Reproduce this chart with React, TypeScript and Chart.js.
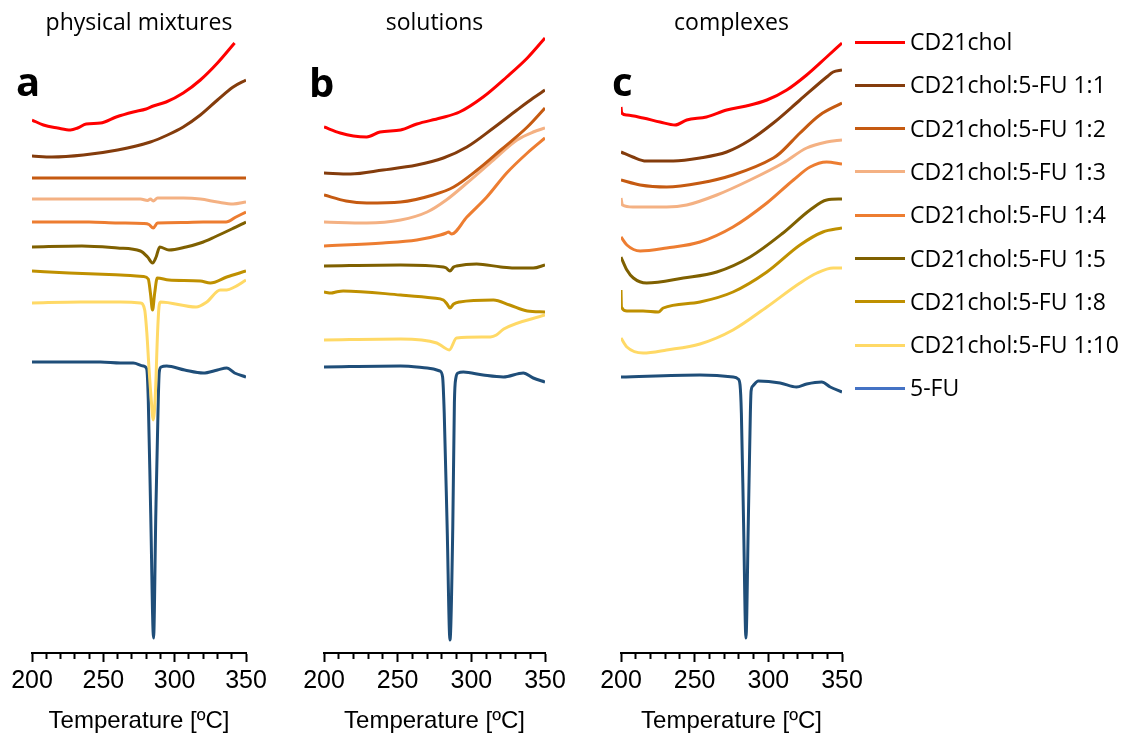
import React, { useEffect, useRef } from "react";
import { Chart, registerables } from "chart.js";

Chart.register(...registerables);

type Pt = [number, number];

// ---------- labels & styling lists ----------
const seriesNames = [
  "CD21chol",
  "CD21chol:5-FU 1:1",
  "CD21chol:5-FU 1:2",
  "CD21chol:5-FU 1:3",
  "CD21chol:5-FU 1:4",
  "CD21chol:5-FU 1:5",
  "CD21chol:5-FU 1:8",
  "CD21chol:5-FU 1:10",
  "5-FU",
];
const seriesColors = ["#FF0000", "#843C0C", "#C55A11", "#F4B183", "#ED7D31", "#7F6000", "#BF9000", "#FFD966", "#1F4E79"];
const legendColors = ["#FF0000", "#843C0C", "#C55A11", "#F4B183", "#ED7D31", "#7F6000", "#BF9000", "#FFD966", "#4472C4"];
const panelTitles = ["physical mixtures", "solutions", "complexes"];
const panelLetters = ["a", "b", "c"];
const axisTitle = "Temperature [ºC]";
const xMin = 200;
const xMax = 350;
const majorStep = 50;
const minorStep = 10;

// ---------- panel a : physical mixtures (temperature °C, heat flow a.u. with offsets) ----------
const aCD21chol: Pt[] = [[200,533],[208,528],[218,525],[227,523],[232,525],[238,529],[248,530],[259,536],[271,541],[280,544],[285,547],[294,551],[306,560],[318,573],[330,590],[342,610]];
const a11: Pt[] = [[200,497],[214,496],[236,498],[260,503],[283,511],[295,518],[306,526],[318,538],[330,553],[341,566],[350,573]];
const a12: Pt[] = [[200,475],[275,475],[350,475]];
const a13: Pt[] = [[200,454],[240,454],[276,454],[281,452.5],[283,454],[285,452],[288,455],[306,455],[318,454],[330,451],[341,449],[350,451]];
const a14: Pt[] = [[200,431],[240,431],[260,430],[278,429.5],[282,428.5],[285,425],[288,430],[306,430.5],[320,431],[336,431],[343,436],[350,441]];
const a15: Pt[] = [[200,406],[235,407],[260,405],[276,402],[281,396],[284.5,390],[287,396],[289.5,406],[296,403],[308,406],[318,410],[328,416],[340,424],[350,431]];
const a18: Pt[] = [[200,382],[226,380],[262,378],[278,376.5],[281.5,374],[283,360],[284.5,343],[286,360],[287.8,375],[296,373],[318,372],[325,370],[336.5,376],[350,382]];
const a110: Pt[] = [[200,350],[234,351],[262,351],[276,350],[279,343],[280.5,320],[282,285],[283.5,255],[285,233],[286.5,260],[288,320],[289,346],[290,351],[315,346],[322.5,351],[332,363],[336.5,363],[342,366],[350,373]];
const aFU: Pt[] = [[200,291],[248,291],[262,290],[271,290],[278,287],[280.4,284],[281.5,253],[283.2,140],[285.2,15],[286.8,140],[288.5,253],[289.2,281],[290.5,286],[294.4,287],[307,283],[320,280],[330,283],[336.5,285],[342,280],[350,276]];

// ---------- panel b : solutions ----------
const bCD21chol: Pt[] = [[200,526],[211,520],[220,517],[229,516],[238,521],[252,523],[263,529],[279,535],[292,541],[308,556],[324,576],[338,595],[350,615]];
const b11: Pt[] = [[200,480],[218,479],[240,483],[263,488],[281,495],[297,506],[315,525],[331,543],[342,555],[350,563]];
const b12: Pt[] = [[200,458],[215,452],[229,450],[252,451],[274,458],[288,466],[304,483],[320,503],[338,526],[350,545]];
const b13: Pt[] = [[200,431],[229,430],[252,433],[270,441],[283,453],[297,470],[315,493],[331,513],[342,521],[350,525]];
const b14: Pt[] = [[200,407],[240,410],[263,413],[279,418],[283,420],[284.5,421],[286.5,419],[297,436],[310.5,456],[324,480],[338,500],[350,515]];
const b15: Pt[] = [[200,387],[252,388],[281,386],[283,385],[285.5,382],[288,386],[290,387],[303.6,389],[320,386],[329,385],[342,385],[350,388]];
const b18: Pt[] = [[200,361],[205,360],[208,361],[213,362],[252,358],[274,355],[281,353],[283.5,349],[285.5,345],[288,349],[292,351],[315,353],[326,348],[338,342],[350,341]];
const b110: Pt[] = [[200,313],[252,314],[276.5,310],[281,306],[285,303],[290,315],[313,316],[317,318],[322,324],[350,338]];
const bFU: Pt[] = [[200,286],[252,287],[270,285],[278.7,282],[280.5,276],[281.6,240],[283.6,125],[285.5,13],[287.4,125],[288.5,250],[289.5,275],[291,280],[294.6,281],[308,278],[321.7,276],[335.3,280],[342,275],[350,271]];

// ---------- panel c : complexes ----------
const cCD21chol: Pt[] = [[200,546],[200.5,540],[204,538],[215,535],[226.5,531],[236.7,528],[244.6,533],[258,536],[271.7,543],[285,547],[299,553],[312.5,563],[326,578],[339.6,596],[350,610]];
const c11: Pt[] = [[200,501],[208,496],[217,492],[235.5,492],[253.6,495],[271.7,501],[287.6,513],[303.4,530],[321.5,553],[339.6,576],[344,581],[350,583]];
const c12: Pt[] = [[200,473],[213,468],[231,466],[253.6,470],[276,478],[303.4,495],[308,500],[321.5,520],[335,538],[350,550]];
const c13: Pt[] = [[200,455],[201,448],[208,446],[231,446],[244.6,448],[265,458],[287.6,473],[310,490],[326,505],[339.6,511],[350,513]];
const c14: Pt[] = [[200,416],[204,408],[213,402],[231,405],[253.6,411],[276,426],[299,450],[317,473],[328.3,486],[339.6,491],[350,489]];
const c15: Pt[] = [[200,396],[204,383],[208.4,375],[217.4,370],[242.3,375],[265,381],[287.6,396],[310,420],[328.3,443],[339.6,453],[350,454]];
const c18: Pt[] = [[200,363],[200.3,346],[204,342],[215,342],[225.3,341],[228.7,345],[253.6,351],[276,361],[299,381],[321.5,408],[337,421],[350,425]];
const c110: Pt[] = [[200,315],[204,306],[215,300],[231,303],[253.6,309],[276,323],[299,346],[321.5,370],[333,380],[344,385],[350,385]];
const cFU: Pt[] = [[200,276],[253.6,278],[276.2,276],[279.5,274],[280.8,268],[281.7,240],[283.2,130],[284.8,15],[286.4,130],[287.8,240],[288.3,262],[289.5,267],[293.2,272],[308,270],[319.2,266],[326,269],[336.2,271],[342,266],[350,261]];

const panelSeries: Pt[][][] = [
  [aCD21chol, a11, a12, a13, a14, a15, a18, a110, aFU],
  [bCD21chol, b11, b12, b13, b14, b15, b18, b110, bFU],
  [cCD21chol, c11, c12, c13, c14, c15, c18, c110, cFU],
];

// ---------- layout (pixels) ----------
const W = 1132;
const H = 738;
const panelBoxes = [
  { left: 0, width: 280, padL: 32, padR: 34 },
  { left: 280, width: 300, padL: 44, padR: 35 },
  { left: 580, width: 290, padL: 41, padR: 28 },
];
const plotTop = 35;
const axisBoxHeight = 85;
const yMax = H - axisBoxHeight - plotTop;

const FONT_AXIS = "'Liberation Sans', Arial, sans-serif";
const FONT_TEXT = "'Open Sans', 'Noto Sans', sans-serif";

function Panel({ idx }: { idx: number }) {
  const ref = useRef<HTMLCanvasElement | null>(null);
  const box = panelBoxes[idx];
  useEffect(() => {
    if (!ref.current) return;
    const series = panelSeries[idx];
    const chart = new Chart(ref.current, {
      type: "line",
      data: {
        datasets: series.map((pts, i) => ({
          label: seriesNames[i],
          data: pts.map(([x, y]) => ({ x, y })),
          borderColor: seriesColors[i],
          backgroundColor: seriesColors[i],
          borderWidth: 3,
          pointRadius: 0,
          fill: false,
          cubicInterpolationMode: "monotone" as const,
        })),
      },
      options: {
        animation: false,
        responsive: false,
        maintainAspectRatio: false,
        layout: { padding: { left: box.padL, right: box.padR, top: plotTop, bottom: 0 } },
        plugins: { legend: { display: false }, tooltip: { enabled: false }, title: { display: false } },
        scales: {
          x: {
            type: "linear",
            position: "bottom",
            min: xMin,
            max: xMax,
            ticks: {
              stepSize: minorStep,
              autoSkip: false,
              maxRotation: 0,
              minRotation: 0,
              callback: (v: any) => (Number(v) % majorStep === 0 ? String(v) : ""),
              font: { family: FONT_AXIS, size: 25 },
              color: "#000",
              padding: 4,
            },
            grid: {
              drawOnChartArea: false,
              drawTicks: true,
              tickLength: 9,
              tickWidth: 2,
              tickColor: "#000",
              tickBorderDash: (ctx: any) =>
                ctx.tick && Number(ctx.tick.value) % majorStep === 0 ? [] : [5, 40],
            } as any,
            border: { display: true, color: "#000", width: 2 },
            title: {
              display: true,
              text: axisTitle,
              color: "#000",
              font: { family: FONT_AXIS, size: 24 },
              padding: { top: 0, bottom: 2 },
            },
            afterFit: (s: any) => {
              s.height = axisBoxHeight;
              s.paddingLeft = 0;
              s.paddingRight = 0;
            },
          },
          y: { type: "linear", display: false, min: 0, max: yMax },
        },
      },
    } as any);
    return () => chart.destroy();
  }, [idx]);
  return (
    <canvas
      ref={ref}
      width={box.width}
      height={H}
      style={{ position: "absolute", left: box.left, top: 0, width: box.width, height: H }}
    />
  );
}

export default function App() {
  const letterPos = [
    { left: 16, top: 61 },
    { left: 309, top: 62 },
    { left: 612, top: 61 },
  ];
  return (
    <div style={{ position: "fixed", left: 0, top: 0, width: W, height: H, background: "#fff", overflow: "hidden" }}>
      {panelBoxes.map((_, i) => (
        <Panel key={i} idx={i} />
      ))}
      {panelBoxes.map((b, i) => {
        const l = b.left + b.padL;
        const r = b.left + b.width - b.padR;
        return (
          <div
            key={"t" + i}
            style={{
              position: "absolute",
              left: l - 40,
              width: r - l + 80,
              top: 10,
              textAlign: "center",
              fontFamily: FONT_TEXT,
              fontSize: 23,
              lineHeight: "23px",
              color: "#000",
              whiteSpace: "nowrap",
            }}
          >
            {panelTitles[i]}
          </div>
        );
      })}
      {panelLetters.map((t, i) => (
        <div
          key={"l" + i}
          style={{
            position: "absolute",
            left: letterPos[i].left,
            top: letterPos[i].top,
            fontFamily: FONT_TEXT,
            fontWeight: 700,
            fontSize: 40,
            lineHeight: "40px",
            color: "#000",
          }}
        >
          {t}
        </div>
      ))}
      {seriesNames.map((n, i) => {
        const yc = 42 + i * 43.3;
        return (
          <div key={"g" + i}>
            <div
              style={{
                position: "absolute",
                left: 855,
                top: yc - 1.5,
                width: 50,
                height: 3,
                background: legendColors[i],
              }}
            />
            <div
              style={{
                position: "absolute",
                left: 910,
                top: yc - 12,
                fontFamily: FONT_TEXT,
                fontSize: 23,
                lineHeight: "23px",
                color: "#000",
                whiteSpace: "nowrap",
              }}
            >
              {n}
            </div>
          </div>
        );
      })}
    </div>
  );
}
